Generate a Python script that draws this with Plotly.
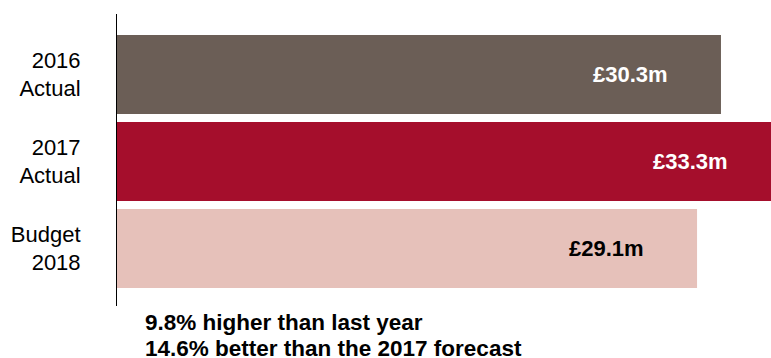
import plotly.graph_objects as go

categories = ["2016<br>Actual", "2017<br>Actual", "Budget<br>2018"]
values = [30.3, 33.3, 29.1]
labels = ["£30.3m", "£33.3m", "£29.1m"]
bar_colors = ["#6b5e56", "#a50e2c", "#e6c1ba"]
label_colors = ["#ffffff", "#ffffff", "#000000"]
footnote = ["9.8% higher than last year", "14.6% better than the 2017 forecast"]

FONT = "Liberation Sans, Arial, sans-serif"
X_MAX = 32.81
LABEL_PAD = 2.56  # gap between label end and bar end, in axis units
PLOT_TOP, PLOT_BOTTOM = 14, 306

fig = go.Figure()
fig.add_trace(go.Bar(
    y=categories, x=values, orientation="h",
    marker=dict(color=bar_colors, line=dict(width=0)),
    width=0.908, hoverinfo="skip", showlegend=False,
))

for cat, v, lab, col in zip(categories, values, labels, label_colors):
    fig.add_annotation(x=v - LABEL_PAD, y=cat, xref="x", yref="y", text=lab, showarrow=False,
                       xanchor="right",
                       font=dict(family=FONT, size=22, color=col, weight="bold"))

for line, pix in zip(footnote, [322.5, 348.5]):
    fig.add_annotation(x=(143 - 117) / 654, y=(PLOT_BOTTOM - pix) / (PLOT_BOTTOM - PLOT_TOP),
                       xref="paper", yref="paper", text=line, showarrow=False, align="left",
                       xanchor="left", yanchor="middle",
                       font=dict(family=FONT, size=22.5, color="#000000", weight="bold"))

fig.update_layout(
    width=771, height=358,
    margin=dict(l=117, r=0, t=PLOT_TOP, b=358 - PLOT_BOTTOM),
    paper_bgcolor="white", plot_bgcolor="white",
    font=dict(family=FONT, color="#000000"),
    xaxis=dict(range=[0, X_MAX], showgrid=False, zeroline=False, showline=False,
               showticklabels=False, ticks=""),
    yaxis=dict(range=[2.661, -0.695], categoryorder="array", categoryarray=categories,
               showgrid=False, zeroline=False, showline=True, linecolor="#000000",
               linewidth=1, ticks="", ticklabelstandoff=31,
               tickfont=dict(family=FONT, size=22, color="#000000")),
)

fig.write_html("out.html", config={"displayModeBar": False},
               post_script="document.body.style.margin='0';document.body.style.overflow='hidden';")
